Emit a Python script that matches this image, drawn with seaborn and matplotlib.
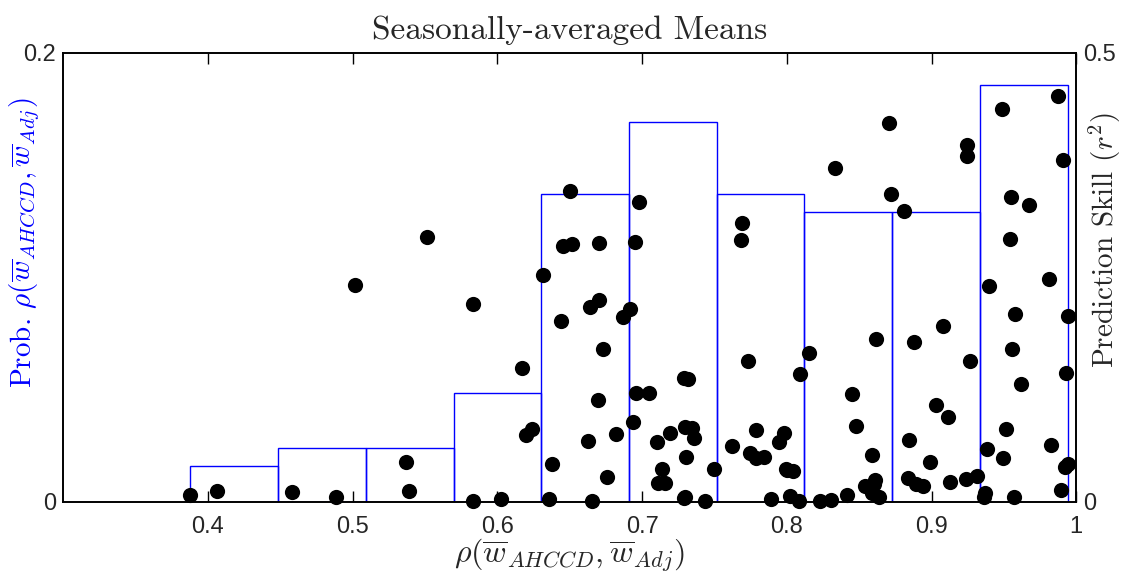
import numpy as np
import pandas as pd
import matplotlib
matplotlib.use("Agg")
import matplotlib.pyplot as plt
import seaborn as sns

# correlation rho(w_AHCCD, w_Adj) per station
corr = [
    0.388, 0.406,
    0.4584, 0.4887, 0.5014,
    0.537, 0.5393, 0.5513,
    0.5834, 0.5834, 0.6025, 0.617, 0.6197, 0.6239,
    0.6315, 0.6354, 0.6381, 0.6439, 0.6457, 0.6515, 0.6499, 0.6625, 0.6641,
    0.6703, 0.6699, 0.6653, 0.6697, 0.6731, 0.6761, 0.6818, 0.6869,
    0.6917, 0.6952, 0.6981, 0.694, 0.6956, 0.7048, 0.7106, 0.7191, 0.714,
    0.7112, 0.7159, 0.729, 0.7315, 0.7294, 0.7347, 0.7361, 0.7306, 0.729,
    0.7434, 0.7494, 0.7300,
    0.7623, 0.7687, 0.7683, 0.7735, 0.7743, 0.7788, 0.7841, 0.7788, 0.7945,
    0.7979, 0.8094, 0.7991, 0.8044, 0.7894, 0.8025, 0.8087, 0.8000,
    0.8152, 0.8228, 0.8304, 0.8416, 0.833, 0.845, 0.8478, 0.8618, 0.8588,
    0.8538, 0.8611, 0.8588, 0.8639, 0.8703, 0.8722, 0.8600,
    0.8811, 0.8876, 0.8845, 0.8836, 0.8895, 0.8939, 0.8989, 0.908, 0.9032,
    0.9117, 0.9129, 0.9248, 0.9248, 0.9264, 0.9241, 0.9314,
    0.9366, 0.9364, 0.9485, 0.9871, 0.9908, 0.9549, 0.9676, 0.9545, 0.9812,
    0.94, 0.9577, 0.994, 0.9559, 0.9926, 0.962, 0.9513, 0.9385, 0.9497,
    0.9823, 0.994, 0.9922, 0.9896, 0.9571,
]

# prediction skill r^2 per station
skill = [
    0.008, 0.0126,
    0.0115, 0.0059, 0.2413,
    0.0442, 0.0126, 0.2954,
    0.001, 0.2205, 0.003, 0.1489, 0.0746, 0.081,
    0.2524, 0.0033, 0.0427, 0.2016, 0.285, 0.2873, 0.3467, 0.0679, 0.2175,
    0.2246, 0.288, 0.001, 0.1132, 0.1704, 0.0278, 0.0754, 0.2057,
    0.2146, 0.2895, 0.3344, 0.0891, 0.1217, 0.121, 0.0668, 0.0765, 0.0364,
    0.0208, 0.0208, 0.1384, 0.1366, 0.0839, 0.0828, 0.0709, 0.0505, 0.0048,
    0.001, 0.0367, 0.0060,
    0.0627, 0.3103, 0.2918, 0.157, 0.0542, 0.0487, 0.0498, 0.0802, 0.0665,
    0.0772, 0.1422, 0.0367, 0.0349, 0.003, 0.0067, 0.0015, 0.0360,
    0.1656, 0.001, 0.002, 0.0078, 0.3716, 0.1203, 0.0846, 0.1812, 0.052,
    0.0175, 0.0245, 0.0097, 0.0052, 0.4217, 0.3426, 0.0200,
    0.3237, 0.1782, 0.069, 0.0264, 0.0205, 0.0178, 0.0449, 0.196, 0.108,
    0.0943, 0.0217, 0.3972, 0.3856, 0.1567, 0.0255, 0.0293,
    0.0097, 0.0059, 0.4373, 0.452, 0.3808, 0.34, 0.3311, 0.2925, 0.248,
    0.2405, 0.2094, 0.2071, 0.17, 0.144, 0.131, 0.0815, 0.0592, 0.0495,
    0.0635, 0.0423, 0.0386, 0.0134, 0.0055,
]

x_ticks = [0.4, 0.5, 0.6, 0.7, 0.8, 0.9, 1.0]
x_ticklabels = ["0.4", "0.5", "0.6", "0.7", "0.8", "0.9", "1"]

df = pd.DataFrame({"corr": corr, "skill": skill})

sns.set_theme(style="ticks")
plt.rcParams["font.family"] = ["Liberation Sans", "DejaVu Sans"]
plt.rcParams["mathtext.fontset"] = "cm"

fig = plt.figure(figsize=(11.27, 5.75), dpi=100)
ax = fig.add_axes([0.056, 0.127, 0.899, 0.781])

sns.histplot(data=df, x="corr", stat="probability", bins=10, fill=False,
             element="bars", color="#0000ff", linewidth=1.0, ax=ax)
for p in ax.patches:
    p.set_edgecolor("#0000ff")
    p.set_facecolor("none")

ax.set_xlim(0.3, 1.0)
ax.set_ylim(0, 0.2)
ax.set_xticks(x_ticks)
ax.set_xticklabels(x_ticklabels)
ax.set_yticks([0, 0.2])
ax.set_yticklabels(["0", "0.2"])
ax.tick_params(axis="x", direction="in", length=8, width=1, top=True,
               labelsize=17, pad=10, color="black")
ax.tick_params(axis="y", direction="in", length=0, labelsize=17, pad=5)
for s in ax.spines.values():
    s.set_color("black")
    s.set_linewidth(1.2)

ax.set_xlabel(r"$\rho(\overline{w}_{AHCCD},\overline{w}_{Adj})$", fontsize=23,
              labelpad=-1)
ax.set_ylabel(r"Prob. $\rho(\overline{w}_{AHCCD},\overline{w}_{Adj})$",
              fontsize=21, color="#0000ff", family="cmr10")
ax.yaxis.set_label_coords(-0.021, 0.577)

ax2 = ax.twinx()
sns.scatterplot(data=df, x="corr", y="skill", color="black", s=120,
                edgecolor="black", linewidth=0, ax=ax2, clip_on=False,
                legend=False, zorder=5)
ax2.set_ylim(0, 0.5)
ax2.set_xlim(0.3, 1.0)
ax2.set_yticks([0, 0.5])
ax2.set_yticklabels(["0", "0.5"])
ax2.tick_params(axis="y", direction="in", length=0, labelsize=17, pad=5)
ax2.set_ylabel(r"Prediction Skill ($r^2$)", fontsize=21, family="cmr10")
ax2.yaxis.set_label_coords(1.010, 0.583)
ax2.set_xlabel("")
for s in ax2.spines.values():
    s.set_color("black")
    s.set_linewidth(1.2)

ax.set_title("Seasonally-averaged Means", fontsize=24, family="cmr10", pad=10)

fig.savefig("out.png", dpi=100)
